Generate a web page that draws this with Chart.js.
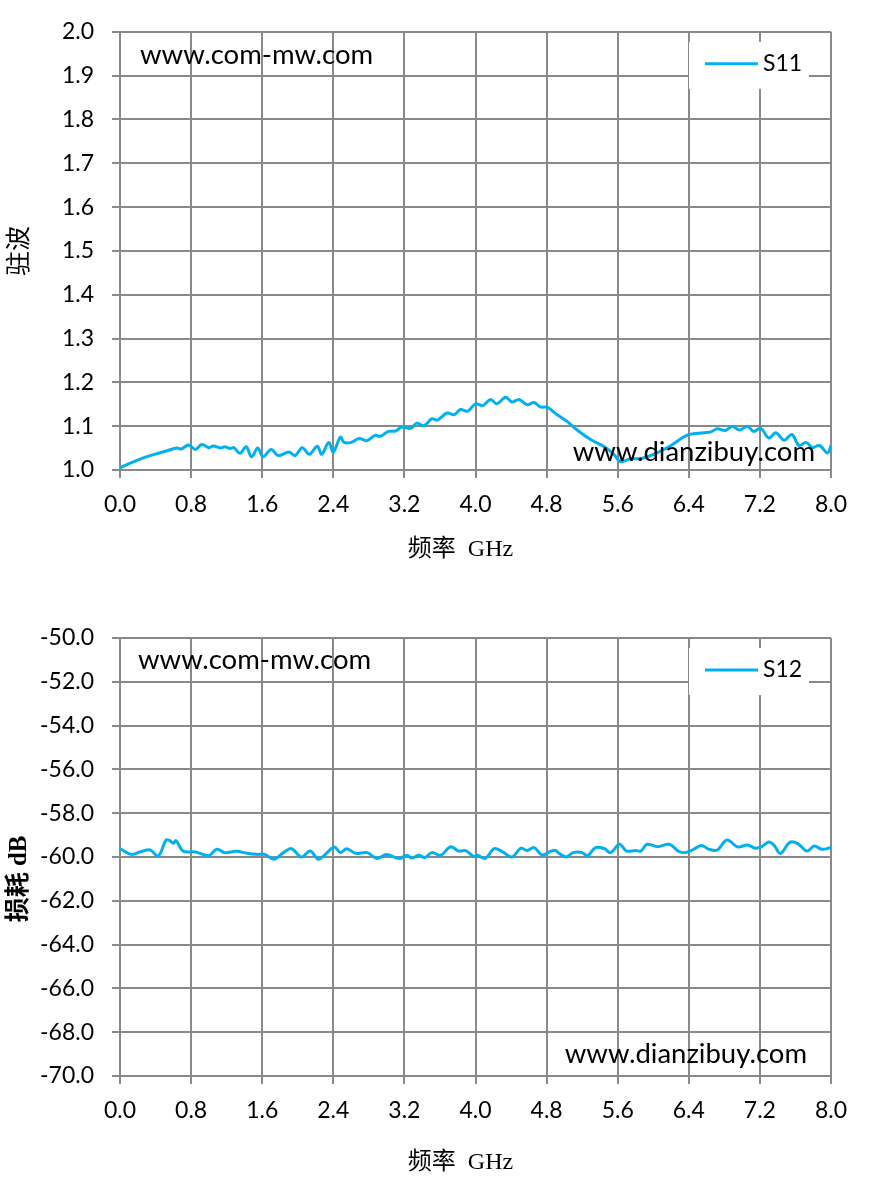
<!DOCTYPE html>
<html>
<head>
<meta charset="utf-8">
<script src="https://cdn.jsdelivr.net/npm/chart.js@4.4.1/dist/chart.umd.min.js"></script>
<style>
  html, body { margin: 0; padding: 0; background: #fff; }
  .box { position: absolute; left: 0; width: 874px; height: 595px; }
</style>
</head>
<body>
<div class="box" style="top:0"><canvas id="s11" width="874" height="595"></canvas></div>
<div class="box" style="top:595px"><canvas id="s12" width="874" height="595"></canvas></div>
<script>
// Tick labels
const freqTicks = [0.0, 0.8, 1.6, 2.4, 3.2, 4.0, 4.8, 5.6, 6.4, 7.2, 8.0];
const s11Ticks = [1.0, 1.1, 1.2, 1.3, 1.4, 1.5, 1.6, 1.7, 1.8, 1.9, 2.0];
const s12Ticks = [-70, -68, -66, -64, -62, -60, -58, -56, -54, -52, -50];

// S11 (VSWR)
const s11Freq = [0.00, 0.19, 0.375, 0.53, 0.64, 0.69, 0.77, 0.85, 0.92, 1.00, 1.05, 1.13, 1.18, 1.24, 1.28,
  1.35, 1.42, 1.48, 1.55, 1.61, 1.70, 1.78, 1.90, 1.97, 2.05, 2.13, 2.22, 2.27, 2.35, 2.40, 2.48, 2.52,
  2.60, 2.69, 2.78, 2.87, 2.93, 3.02, 3.10, 3.17, 3.27, 3.34, 3.42, 3.51, 3.57, 3.68, 3.76, 3.83, 3.91,
  4.00, 4.08, 4.17, 4.24, 4.34, 4.41, 4.49, 4.58, 4.66, 4.73, 4.81, 4.92, 5.03, 5.14, 5.30, 5.45, 5.56,
  5.63, 5.75, 5.86, 6.01, 6.20, 6.39, 6.57, 6.65, 6.72, 6.81, 6.89, 6.97, 7.06, 7.13, 7.21, 7.30, 7.38,
  7.47, 7.56, 7.64, 7.72, 7.79, 7.87, 7.96, 8.00];
const s11Vals = [1.005, 1.022, 1.035, 1.044, 1.050, 1.048, 1.057, 1.047, 1.058, 1.051, 1.055, 1.050, 1.053, 1.049, 1.051,
  1.038, 1.053, 1.030, 1.050, 1.030, 1.047, 1.033, 1.041, 1.033, 1.051, 1.036, 1.054, 1.036, 1.063, 1.041, 1.075, 1.063,
  1.063, 1.072, 1.067, 1.079, 1.077, 1.088, 1.089, 1.098, 1.095, 1.107, 1.101, 1.117, 1.114, 1.130, 1.126, 1.138, 1.134,
  1.151, 1.147, 1.161, 1.151, 1.166, 1.155, 1.161, 1.149, 1.154, 1.144, 1.143, 1.126, 1.111, 1.092, 1.069, 1.053, 1.035,
  1.019, 1.026, 1.026, 1.036, 1.056, 1.080, 1.085, 1.087, 1.094, 1.090, 1.100, 1.091, 1.100, 1.088, 1.095, 1.073, 1.085,
  1.068, 1.081, 1.056, 1.063, 1.051, 1.056, 1.039, 1.056];

// S12 (isolation, dB)
const s12Freq = [0.00, 0.13, 0.24, 0.34, 0.43, 0.52, 0.56, 0.60, 0.63, 0.71, 0.85, 0.96, 1.01, 1.09, 1.18, 1.31,
  1.43, 1.54, 1.63, 1.73, 1.84, 1.93, 2.04, 2.14, 2.23, 2.30, 2.41, 2.48, 2.55, 2.65, 2.78, 2.89, 3.00,
  3.14, 3.23, 3.28, 3.36, 3.43, 3.51, 3.61, 3.72, 3.81, 3.89, 3.98, 4.02, 4.11, 4.21, 4.30, 4.41, 4.51,
  4.58, 4.66, 4.75, 4.85, 4.90, 4.93, 5.02, 5.10, 5.20, 5.26, 5.35, 5.45, 5.52, 5.62, 5.70, 5.80, 5.86,
  5.93, 6.05, 6.18, 6.29, 6.36, 6.44, 6.54, 6.63, 6.72, 6.83, 6.95, 7.06, 7.15, 7.22, 7.30, 7.36, 7.43,
  7.54, 7.63, 7.73, 7.81, 7.90, 8.00];
const s12Vals = [-59.62, -59.88, -59.75, -59.68, -59.95, -59.22, -59.25, -59.37, -59.25, -59.73, -59.77, -59.92, -59.92, -59.65, -59.80, -59.74,
  -59.83, -59.88, -59.88, -60.10, -59.80, -59.62, -60.00, -59.73, -60.10, -59.92, -59.54, -59.80, -59.62, -59.83, -59.80, -60.07, -59.89,
  -60.07, -59.92, -60.05, -59.92, -60.02, -59.80, -59.92, -59.53, -59.73, -59.71, -59.98, -59.92, -60.06, -59.62, -59.75, -60.00, -59.60,
  -59.70, -59.57, -59.91, -59.73, -59.70, -59.80, -60.00, -59.80, -59.80, -59.95, -59.57, -59.62, -59.80, -59.42, -59.73, -59.70, -59.73,
  -59.42, -59.53, -59.42, -59.75, -59.80, -59.68, -59.47, -59.65, -59.68, -59.22, -59.54, -59.45, -59.60, -59.53, -59.32, -59.47, -59.84,
  -59.32, -59.40, -59.73, -59.50, -59.65, -59.57];

const LINE_COLOR = '#00B0F0';
const GRID_COLOR = '#898989';
const TICK_FONT = { family: 'Lato', size: 23 };
const TITLE_FONT = "'Liberation Serif', 'Noto Sans CJK SC'";

// Legend box + the two site labels drawn inside the plot
const notesPlugin = {
    id: 'notes',
    afterDatasetsDraw(chart, args, opts) {
        const ctx = chart.ctx;
        const area = chart.chartArea;
        const ds = chart.data.datasets[0];
        ctx.save();

        const lx = 689, ly = area.top + 10;
        ctx.fillStyle = '#fff';
        ctx.fillRect(lx, ly, 120, 47);
        ctx.strokeStyle = ds.borderColor;
        ctx.lineWidth = 3;
        ctx.beginPath();
        ctx.moveTo(lx + 16, ly + 22);
        ctx.lineTo(lx + 69, ly + 22);
        ctx.stroke();
        ctx.fillStyle = '#000';
        ctx.font = '23px Lato';
        ctx.textBaseline = 'middle';
        ctx.fillText(ds.label, lx + 74, ly + 22);

        ctx.font = '27.5px Lato';
        ctx.fillText('www.com-mw.com', opts.siteLeft, area.top + opts.siteTop);
        ctx.textAlign = 'right';
        ctx.fillText('www.dianzibuy.com', opts.siteRight, area.bottom - opts.siteBottom);
        ctx.restore();
    }
};

function makeChart(id, label, xs, ys, yTicks, o) {
    const points = xs.map((x, i) => ({ x: x, y: ys[i] }));
    return new Chart(document.getElementById(id), {
        type: 'line',
        data: {
            datasets: [{
                label: label,
                data: points,
                borderColor: LINE_COLOR,
                borderWidth: 3,
                pointRadius: 0,
                tension: 0.35,
                fill: false
            }]
        },
        options: {
            responsive: false,
            animation: false,
            devicePixelRatio: 1,
            layout: { padding: { left: 0, right: 43, top: o.padTop, bottom: 0 } },
            plugins: {
                legend: { display: false },
                tooltip: { enabled: false },
                notes: o.notes
            },
            scales: {
                x: {
                    type: 'linear',
                    min: freqTicks[0],
                    max: freqTicks[freqTicks.length - 1],
                    afterBuildTicks: axis => { axis.ticks = freqTicks.map(v => ({ value: v })); },
                    afterFit: axis => { axis.height = o.xHeight; },
                    grid: { color: GRID_COLOR, lineWidth: 2, tickLength: 8 },
                    border: { color: GRID_COLOR, width: 2 },
                    ticks: {
                        autoSkip: false, maxRotation: 0, padding: 13,
                        color: '#000', font: TICK_FONT,
                        callback: v => v.toFixed(1)
                    },
                    title: {
                        // trailing spaces nudge the title a bit left, as in the original
                        display: true, text: '频率  GHz     ', color: '#000',
                        font: { family: TITLE_FONT, size: 24 },
                        padding: { top: 0, bottom: o.xTitlePad }
                    }
                },
                y: {
                    min: yTicks[0],
                    max: yTicks[yTicks.length - 1],
                    afterBuildTicks: axis => { axis.ticks = yTicks.map(v => ({ value: v })); },
                    afterFit: axis => { axis.width = 120; },
                    grid: { color: GRID_COLOR, lineWidth: 2, tickLength: 8 },
                    border: { color: GRID_COLOR, width: 2 },
                    ticks: {
                        padding: 18, color: '#000', font: TICK_FONT,
                        callback: v => v.toFixed(1)
                    },
                    title: {
                        display: true, text: o.yTitle, color: '#000',
                        font: { family: TITLE_FONT, size: 25, weight: o.yTitleWeight },
                        padding: { top: 5, bottom: 0 }
                    }
                }
            }
        },
        plugins: [notesPlugin]
    });
}

makeChart('s11', 'S11', s11Freq, s11Vals, s11Ticks, {
    padTop: 31, xHeight: 125, xTitlePad: 31, yTitle: '驻波', yTitleWeight: 'normal',
    notes: { siteLeft: 140, siteTop: 23, siteRight: 815, siteBottom: 18 }
});
makeChart('s12', 'S12', s12Freq, s12Vals, s12Ticks, {
    padTop: 43, xHeight: 114, xTitlePad: 13, yTitle: '损耗 dB       ', yTitleWeight: 'bold',
    notes: { siteLeft: 138, siteTop: 22, siteRight: 807, siteBottom: 22 }
});
</script>
</body>
</html>
